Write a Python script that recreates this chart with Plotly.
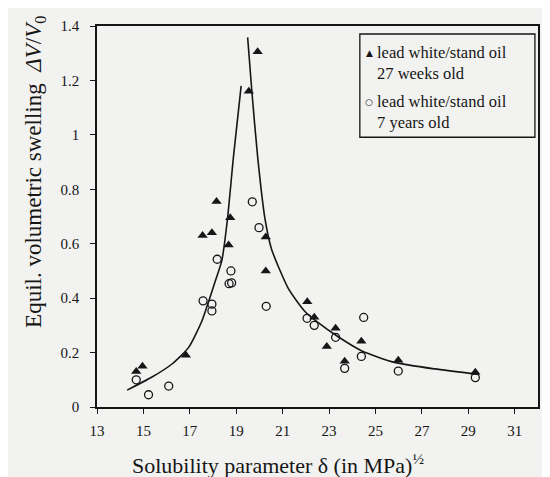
import plotly.graph_objects as go

# ---- data ----
tri_x = [14.69, 14.96, 16.83, 17.55, 17.95, 18.15, 18.67, 18.74, 19.54, 19.92,
         20.27, 20.27, 22.06, 22.36, 22.90, 23.28, 23.67, 24.39, 25.98, 29.30]
tri_y = [0.130, 0.150, 0.190, 0.630, 0.640, 0.755, 0.595, 0.695, 1.160, 1.305,
         0.625, 0.500, 0.387, 0.330, 0.222, 0.289, 0.168, 0.242, 0.172, 0.128]

circ_x = [14.69, 15.22, 16.09, 17.57, 17.95, 17.95, 18.18, 18.77, 18.69, 18.80,
          19.69, 19.98, 20.29, 22.05, 22.36, 23.28, 23.67, 24.39, 24.49, 25.98, 29.30]
circ_y = [0.100, 0.045, 0.077, 0.390, 0.378, 0.353, 0.543, 0.500, 0.453, 0.456,
          0.754, 0.659, 0.370, 0.326, 0.300, 0.256, 0.142, 0.186, 0.329, 0.132, 0.108]

curve_left_x = [14.30, 15.37, 16.23, 16.95, 17.52, 17.81, 18.09, 18.38, 18.62, 18.88, 19.21]
curve_left_y = [0.062, 0.110, 0.158, 0.219, 0.316, 0.388, 0.461, 0.539, 0.690, 0.920, 1.180]

curve_right_x = [19.49, 19.67, 19.92, 20.24, 20.52, 21.24, 21.95, 22.53, 23.39, 24.39,
                 25.82, 27.54, 29.45]
curve_right_y = [1.358, 1.162, 0.920, 0.690, 0.580, 0.436, 0.352, 0.310, 0.258, 0.207,
                 0.164, 0.140, 0.120]

x_ticks = [13, 15, 17, 19, 21, 23, 25, 27, 29, 31]
y_ticks = [0, 0.2, 0.4, 0.6, 0.8, 1.0, 1.2, 1.4]
y_ticktext = ["0", "0.2", "0.4", "0.6", "0.8", "1", "1.2", "1.4"]

legend_entries = ["lead white/stand oil<br>27 weeks old", "lead white/stand oil<br>7 years old"]

SERIF = "Liberation Serif, Times New Roman, serif"
BG = "#f2f2f0"
INK = "#161616"

fig = go.Figure()
fig.add_trace(go.Scatter(x=curve_left_x, y=curve_left_y, mode="lines",
                         line=dict(color=INK, width=1.6, shape="spline", smoothing=0.6),
                         showlegend=False, hoverinfo="skip"))
fig.add_trace(go.Scatter(x=curve_right_x, y=curve_right_y, mode="lines",
                         line=dict(color=INK, width=1.6, shape="spline", smoothing=0.6),
                         showlegend=False, hoverinfo="skip"))
fig.add_trace(go.Scatter(x=tri_x, y=tri_y, mode="markers", name="27 weeks",
                         marker=dict(symbol="triangle-up", size=9, color=INK),
                         showlegend=False))
fig.add_trace(go.Scatter(x=circ_x, y=circ_y, mode="markers", name="7 years",
                         marker=dict(symbol="circle-open", size=8, color=INK,
                                     line=dict(width=1.3, color=INK)),
                         showlegend=False))

axis_common = dict(showline=True, linecolor=INK, linewidth=1.5, mirror=True,
                   showgrid=False, zeroline=False, ticks="outside", ticklen=5,
                   tickwidth=1.3, tickcolor=INK,
                   tickfont=dict(family=SERIF, size=15, color=INK))

fig.update_xaxes(range=[13, 32], tickvals=x_ticks, ticklabelstandoff=4, **axis_common)
fig.update_yaxes(range=[0, 1.4], tickvals=y_ticks, ticktext=y_ticktext,
                 ticklabelstandoff=8, **axis_common)

# axis titles
fig.add_annotation(xref="paper", yref="paper", x=-0.142, y=0.618,
                   text="Equil. volumetric swelling  <i>ΔV</i>/<i>V</i><sub>0</sub>",
                   textangle=-90, showarrow=False, xanchor="center", yanchor="middle",
                   font=dict(family=SERIF, size=23, color=INK))
fig.add_annotation(xref="paper", yref="paper", x=0.411, y=-0.150,
                   text="Solubility parameter δ (in MPa)<sup>½</sup>",
                   showarrow=False, xanchor="center", yanchor="middle",
                   font=dict(family=SERIF, size=22, color=INK))

# legend box
fig.add_shape(type="rect", xref="paper", yref="paper", x0=0.596, x1=0.993, y0=0.708, y1=0.979,
              line=dict(color=INK, width=1.3), fillcolor="rgba(0,0,0,0)")
for txt, yy in zip(legend_entries, [0.903, 0.775]):
    fig.add_annotation(xref="paper", yref="paper", x=0.630, y=yy, text=txt, align="left",
                       showarrow=False, xanchor="left", yanchor="middle",
                       font=dict(family=SERIF, size=16.5, color=INK))
fig.add_annotation(xref="paper", yref="paper", x=0.617, y=0.929, text="▲",
                   showarrow=False, xanchor="center", yanchor="middle",
                   font=dict(family="DejaVu Sans", size=9, color=INK))
fig.add_annotation(xref="paper", yref="paper", x=0.617, y=0.801, text="○",
                   showarrow=False, xanchor="center", yanchor="middle",
                   font=dict(family="DejaVu Sans", size=9, color=INK))

# page body adds an 8px margin, so the figure is made 8px smaller on each axis
fig.update_layout(width=542, height=469, margin=dict(l=89, r=10, t=12, b=70),
                  paper_bgcolor=BG, plot_bgcolor=BG, showlegend=False)

fig.write_html("out.html")
